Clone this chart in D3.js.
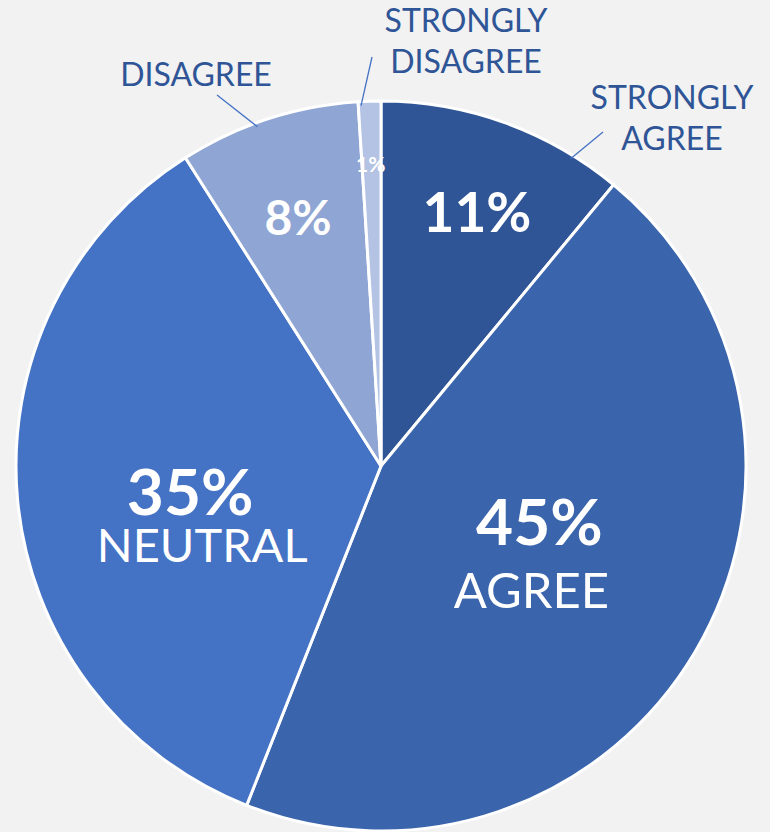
<!DOCTYPE html>
<html>
<head>
<meta charset="utf-8">
<script src="https://cdn.jsdelivr.net/npm/d3@7"></script>
<style>
  html, body { margin: 0; padding: 0; background: #f2f2f2; }
  svg { display: block; }
</style>
</head>
<body>
<svg id="chart" width="770" height="832"></svg>
<script>
// Survey response shares, clockwise from 12 o'clock
const categories = ["STRONGLY AGREE", "AGREE", "NEUTRAL", "DISAGREE", "STRONGLY DISAGREE"];
const values = [11, 45, 35, 8, 1];
const colors = ["#2f5597", "#3a64ac", "#4472c4", "#8fa5d4", "#b4c2e3"];

const width = 770, height = 832;
const cx = 381, cy = 466, radius = 365;

const svg = d3.select("#chart");
svg.append("rect").attr("width", width).attr("height", height).attr("fill", "#f2f2f2");

const data = categories.map((c, i) => ({ category: c, value: values[i], color: colors[i] }));

const pie = d3.pie().sort(null).value(d => d.value).startAngle(0).endAngle(2 * Math.PI);
const arcs = pie(data);
const arc = d3.arc().innerRadius(0).outerRadius(radius);

const g = svg.append("g").attr("transform", `translate(${cx},${cy})`);

g.selectAll("path.slice")
  .data(arcs)
  .join("path")
  .attr("class", "slice")
  .attr("d", arc)
  .attr("fill", d => d.data.color)
  .attr("stroke", "#ffffff")
  .attr("stroke-width", 3)
  .attr("stroke-linejoin", "round");

// In-slice labels: baseline anchor at radius r, rotated `shift` degrees from the slice's mid angle.
// Two-line labels put the category name below at offset (ndx, ndy).
const inside = [
  { r: 253, shift: 2.5,  pct: 55 },
  { r: 177, shift: -4.1, pct: 64, name: "AGREE",   nameSize: 49, ndx: -8, ndy: 63 },
  { r: 197, shift: -9,   pct: 64, name: "NEUTRAL", nameSize: 47, ndx: 12, ndy: 47 },
  { r: 245, shift: -1.8, pct: 48 },
  { r: 294, shift: -0.2, pct: 21 }
];

const pctFont = "Lato, 'Open Sans', sans-serif";
const nameFont = "Lato, 'Noto Sans', sans-serif";
const fmt = v => d3.format(".0f")(v) + "%";

arcs.forEach((a, i) => {
  const s = inside[i];
  const ang = (a.startAngle + a.endAngle) / 2 + s.shift * Math.PI / 180;
  const x = Math.sin(ang) * s.r;
  const y = -Math.cos(ang) * s.r;
  const lg = g.append("g").attr("transform", `translate(${x},${y})`);
  lg.append("text")
    .attr("text-anchor", "middle")
    .attr("fill", "#ffffff")
    .attr("font-family", pctFont)
    .attr("font-weight", 700)
    .attr("font-size", s.pct)
    .text(fmt(a.data.value));
  if (s.name) {
    lg.append("text")
      .attr("text-anchor", "middle")
      .attr("x", s.ndx)
      .attr("y", s.ndy)
      .attr("fill", "#ffffff")
      .attr("font-family", nameFont)
      .attr("font-size", s.nameSize)
      .text(s.name);
  }
});

// Outside labels with leader lines for the three small slices
const outside = [
  { idx: 0, lines: ["STRONGLY", "AGREE"], x: 672, y: 109, lineEnd: [603, 132], at: 0.80 },
  { idx: 3, lines: ["DISAGREE"], x: 196, y: 86, lineEnd: [217, 95], at: 0.43 },
  { idx: 4, lines: ["STRONGLY", "DISAGREE"], x: 466, y: 32, lineEnd: [372, 57], at: 0.12 }
];

outside.forEach(o => {
  const a = arcs[o.idx];
  const ang = a.startAngle + (a.endAngle - a.startAngle) * o.at;
  const px = cx + Math.sin(ang) * (radius - 4);
  const py = cy - Math.cos(ang) * (radius - 4);
  svg.append("line")
    .attr("x1", px).attr("y1", py)
    .attr("x2", o.lineEnd[0]).attr("y2", o.lineEnd[1])
    .attr("stroke", "#4472c4")
    .attr("stroke-width", 1.3);
  const t = svg.append("text")
    .attr("text-anchor", "middle")
    .attr("fill", "#2f5597")
    .attr("font-family", nameFont)
    .attr("font-size", 32);
  o.lines.forEach((ln, k) => {
    t.append("tspan").attr("x", o.x).attr("y", o.y + k * 41).text(ln);
  });
});
</script>
</body>
</html>
